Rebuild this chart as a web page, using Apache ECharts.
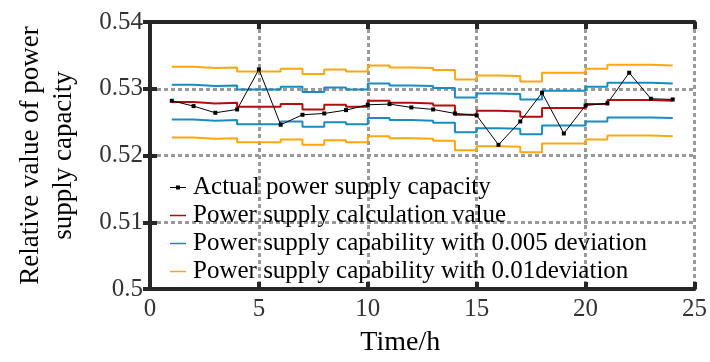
<!DOCTYPE html>
<html>
<head>
<meta charset="utf-8">
<script src="https://cdn.jsdelivr.net/npm/echarts@6/dist/echarts.min.js"></script>
<style>
  html, body { margin: 0; padding: 0; background: #fff; }
  #chart { width: 710px; height: 362px; }
</style>
</head>
<body>
<div id="chart"></div>
<script>
// Hours 1..24
const hours = [1, 2, 3, 4, 5, 6, 7, 8, 9, 10, 11, 12, 13, 14, 15, 16, 17, 18, 19, 20, 21, 22, 23, 24];

// Actual power supply capacity (relative value)
const actualCapacity = [0.5282, 0.5274, 0.5264, 0.5269, 0.5329, 0.5246, 0.5261, 0.5263, 0.5268, 0.5276, 0.5277, 0.5272,
                        0.5269, 0.5263, 0.5260, 0.5216, 0.5251, 0.5294, 0.5233, 0.5275, 0.5278, 0.5324, 0.5285, 0.5284];

// Calculated power supply value (held over each hour)
const calcValue = [0.5280, 0.5278, 0.5279, 0.5273, 0.5273, 0.5277, 0.5269, 0.5276, 0.5273, 0.5282, 0.5279, 0.5278,
                   0.5275, 0.5261, 0.5267, 0.5266, 0.5258, 0.5271, 0.5271, 0.5277, 0.5283, 0.5283, 0.5282, 0.5282];

// Band with 0.005 deviation
const dev005Upper = [0.5306, 0.5304, 0.5305, 0.5299, 0.5299, 0.5303, 0.5295, 0.5302, 0.5299, 0.5308, 0.5305, 0.5304,
                     0.5301, 0.5287, 0.5293, 0.5292, 0.5284, 0.5297, 0.5297, 0.5303, 0.5309, 0.5309, 0.5308, 0.5308];
const dev005Lower = [0.5254, 0.5252, 0.5253, 0.5247, 0.5247, 0.5251, 0.5243, 0.5250, 0.5247, 0.5256, 0.5253, 0.5252,
                     0.5249, 0.5235, 0.5241, 0.5240, 0.5232, 0.5245, 0.5245, 0.5251, 0.5257, 0.5257, 0.5256, 0.5256];

// Band with 0.01 deviation
const dev01Upper = [0.5333, 0.5331, 0.5332, 0.5326, 0.5326, 0.5330, 0.5322, 0.5329, 0.5326, 0.5335, 0.5332, 0.5331,
                    0.5328, 0.5314, 0.5320, 0.5319, 0.5311, 0.5324, 0.5324, 0.5330, 0.5336, 0.5336, 0.5335, 0.5335];
const dev01Lower = [0.5227, 0.5225, 0.5226, 0.5220, 0.5220, 0.5224, 0.5216, 0.5223, 0.5220, 0.5229, 0.5226, 0.5225,
                    0.5222, 0.5208, 0.5214, 0.5213, 0.5205, 0.5218, 0.5218, 0.5224, 0.5230, 0.5230, 0.5229, 0.5229];

const xTicks = [0, 25, 5];          // min, max, interval
const yTicks = [0.5, 0.54, 0.01];   // min, max, interval

const seriesNames = [
  'Actual power supply capacity',
  'Power supply calculation value',
  'Power supply capability with 0.005 deviation',
  'Power supply capability with 0.01deviation'
];

const pairs = vals => hours.map((h, i) => [h, vals[i]]);

const FONT = '"Liberation Serif", "Times New Roman", serif';
const AXIS_COLOR = '#262626';
const GRID_STYLE = { color: '#9a9a9a', width: 3, type: [4, 3] };

const RED = '#b50d0d';
const BLUE = '#1a8bbf';
const ORANGE = '#fca70f';

// Legend glyphs: plain line, and line with a small square marker
const ICON_LINE = 'path://M0,2 L16,2 L16,3.6 L0,3.6 Z M0,0 L0,0.01 Z M0,5.6 L0,5.61 Z';
const ICON_MARKED = 'path://M0,2.3 L16,2.3 L16,3.3 L0,3.3 Z M6,0.8 L10,0.8 L10,4.8 L6,4.8 Z M0,0 L0,0.01 Z M0,5.6 L0,5.61 Z';

const frameAxis = (extra) => Object.assign({
  type: 'value',
  axisLine: { show: true, lineStyle: { color: AXIS_COLOR, width: 4 } },
  axisTick: { show: true, inside: true, length: 7, lineStyle: { color: AXIS_COLOR, width: 4 } },
  axisLabel: { show: false },
  splitLine: { show: false }
}, extra);

const stepSeries = (name, vals, color, z) => ({
  name, type: 'line', step: 'end', data: pairs(vals),
  symbol: 'none', lineStyle: { color, width: 2 }, itemStyle: { color }, z
});

const chart = echarts.init(document.getElementById('chart'), null, { renderer: 'canvas' });

chart.setOption({
  animation: false,
  backgroundColor: '#fff',
  grid: { left: 150, right: 12, top: 22, bottom: 60, containLabel: false },
  legend: {
    orient: 'vertical',
    left: 165,
    top: 170,
    itemWidth: 16,
    itemHeight: 6,
    itemGap: 3,
    backgroundColor: 'transparent',
    textStyle: { fontFamily: FONT, fontSize: 25, color: '#000', padding: [0, 0, 0, 2] },
    data: [
      { name: seriesNames[0], icon: ICON_MARKED },
      { name: seriesNames[1], icon: ICON_LINE },
      { name: seriesNames[2], icon: ICON_LINE },
      { name: seriesNames[3], icon: ICON_LINE }
    ]
  },
  xAxis: [
    frameAxis({
      position: 'bottom',
      min: xTicks[0], max: xTicks[1], interval: xTicks[2],
      axisLabel: { show: true, fontFamily: FONT, fontSize: 25, color: '#333', margin: 8 },
      splitLine: { show: true, lineStyle: GRID_STYLE },
      name: 'Time/h',
      nameLocation: 'middle',
      nameGap: 40,
      nameTextStyle: { fontFamily: FONT, fontSize: 28, color: '#000', padding: [0, 44, 0, 0] }
    }),
    frameAxis({ position: 'top', min: xTicks[0], max: xTicks[1], interval: xTicks[2] })
  ],
  yAxis: [
    frameAxis({
      position: 'left',
      min: yTicks[0], max: yTicks[1], interval: yTicks[2],
      axisLabel: { show: true, fontFamily: FONT, fontSize: 25, color: '#333', margin: 7 },
      splitLine: { show: true, lineStyle: GRID_STYLE },
      name: 'Relative value of power\nsupply capacity',
      nameLocation: 'middle',
      nameGap: 70,
      nameTextStyle: { fontFamily: FONT, fontSize: 27, color: '#000', lineHeight: 33, align: 'center' }
    }),
    frameAxis({ position: 'right', min: yTicks[0], max: yTicks[1], interval: yTicks[2] })
  ],
  series: [
    stepSeries(seriesNames[3], dev01Upper, ORANGE, 2),
    stepSeries(seriesNames[3], dev01Lower, ORANGE, 2),
    stepSeries(seriesNames[2], dev005Upper, BLUE, 3),
    stepSeries(seriesNames[2], dev005Lower, BLUE, 3),
    stepSeries(seriesNames[1], calcValue, RED, 4),
    {
      name: seriesNames[0], type: 'line', data: pairs(actualCapacity),
      symbol: 'rect', symbolSize: 4, showSymbol: true,
      lineStyle: { color: '#000', width: 1 }, itemStyle: { color: '#000' }, z: 5
    }
  ]
});
</script>
</body>
</html>
